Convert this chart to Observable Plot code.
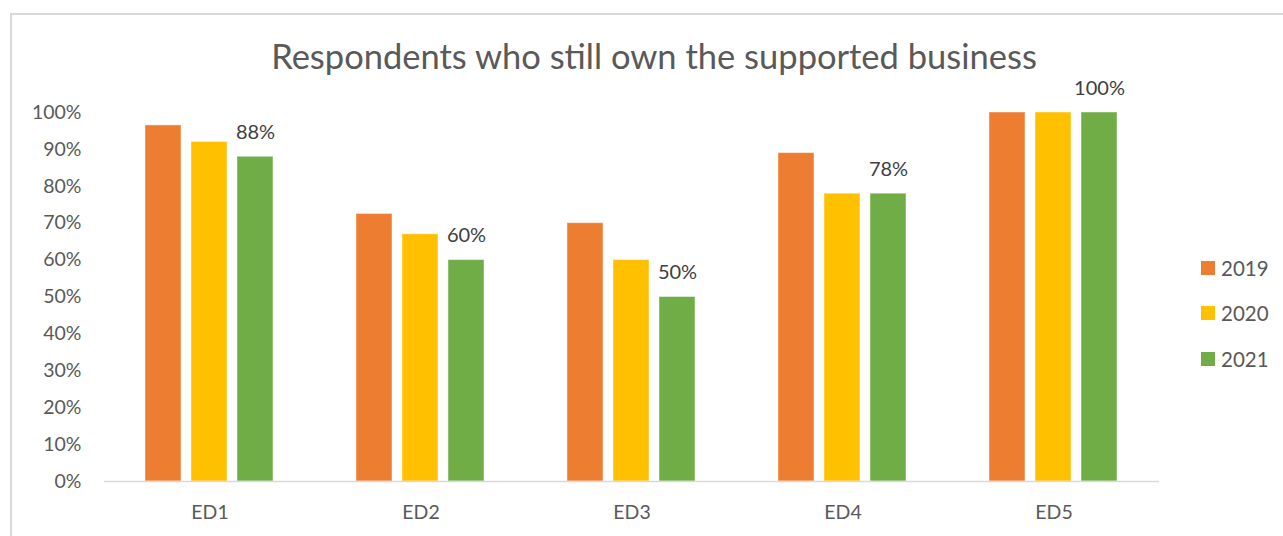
<!DOCTYPE html>
<html>
<head>
<meta charset="utf-8">
<script src="https://cdn.jsdelivr.net/npm/d3@7"></script>
<script src="https://cdn.jsdelivr.net/npm/@observablehq/plot@0.6"></script>
<style>
  html, body { margin: 0; padding: 0; background: #fff; }
  #wrap { position: relative; width: 1283px; height: 536px; overflow: hidden; font-family: Lato, "Open Sans", sans-serif; }
  #frame { position: absolute; left: 10px; top: 13px; width: 1290px; height: 540px; border-top: 2px solid #d9d9d9; border-left: 2px solid #d9d9d9; }
  #title { position: absolute; left: 0; width: 1308px; top: 35px; text-align: center; font-size: 34.5px; color: #595959; white-space: nowrap; }
  #chart { position: absolute; left: 0; top: 0; }
  #legend { position: absolute; left: 1201px; top: 245px; font-size: 20.5px; color: #595959; }
  .item { display: flex; align-items: center; height: 45.5px; }
  .sw { width: 14px; height: 14px; margin-right: 6px; }
</style>
</head>
<body>
<div id="wrap">
  <div id="frame"></div>
  <div id="chart"></div>
  <div id="title">Respondents who still own the supported business</div>
  <div id="legend"></div>
</div>
<script>
const categories = ["ED1", "ED2", "ED3", "ED4", "ED5"];
const years = ["2019", "2020", "2021"];
const v2019 = [0.965, 0.725, 0.70, 0.89, 1.00];
const v2020 = [0.92, 0.67, 0.60, 0.78, 1.00];
const v2021 = [0.88, 0.60, 0.50, 0.78, 1.00];
const colors = ["#ED7D31", "#FFC000", "#70AD47"];
const yTicks = [0, 0.1, 0.2, 0.3, 0.4, 0.5, 0.6, 0.7, 0.8, 0.9, 1.0];

const series = [v2019, v2020, v2021];
const data = [];
categories.forEach((c, i) => {
  years.forEach((y, j) => data.push({cat: c, year: y, value: series[j][i]}));
});
const labelled = data.filter(d => d.year === "2021");

const chart = Plot.plot({
  width: 1283,
  height: 536,
  marginTop: 112,
  marginBottom: 55,
  marginLeft: 104,
  marginRight: 124,
  style: {fontFamily: "Lato, 'Open Sans', sans-serif", background: "transparent", color: "#595959"},
  fx: {domain: categories, padding: 0, label: null},
  x: {domain: years, paddingInner: 0.21, paddingOuter: 0.86, axis: null},
  y: {domain: [0, 1], label: null},
  color: {domain: years, range: colors},
  marks: [
    Plot.axisY({ticks: yTicks, tickFormat: d3.format(".0%"), tickSize: 0, tickPadding: 23, label: null, fontSize: 19.5, color: "#595959"}),
    Plot.axisFx({anchor: "bottom", tickSize: 0, tickPadding: 24, label: null, fontSize: 19.5, color: "#595959"}),
    Plot.barY(data, {fx: "cat", x: "year", y: "value", fill: "year", stroke: "white", strokeOpacity: 0.45, strokeWidth: 1}),
    Plot.ruleY([0], {stroke: "#d9d9d9", strokeWidth: 1.5}),
    Plot.text(labelled, {fx: "cat", x: "year", y: "value", text: d => d3.format(".0%")(d.value), lineAnchor: "bottom", dy: -18, fontSize: 20, fill: "#404040"})
  ]
});
document.getElementById("chart").appendChild(chart);

const legend = document.getElementById("legend");
years.forEach((y, j) => {
  const it = document.createElement("div");
  it.className = "item";
  it.innerHTML = `<div class="sw" style="background:${colors[j]}"></div><span>${y}</span>`;
  legend.appendChild(it);
});
</script>
</body>
</html>
